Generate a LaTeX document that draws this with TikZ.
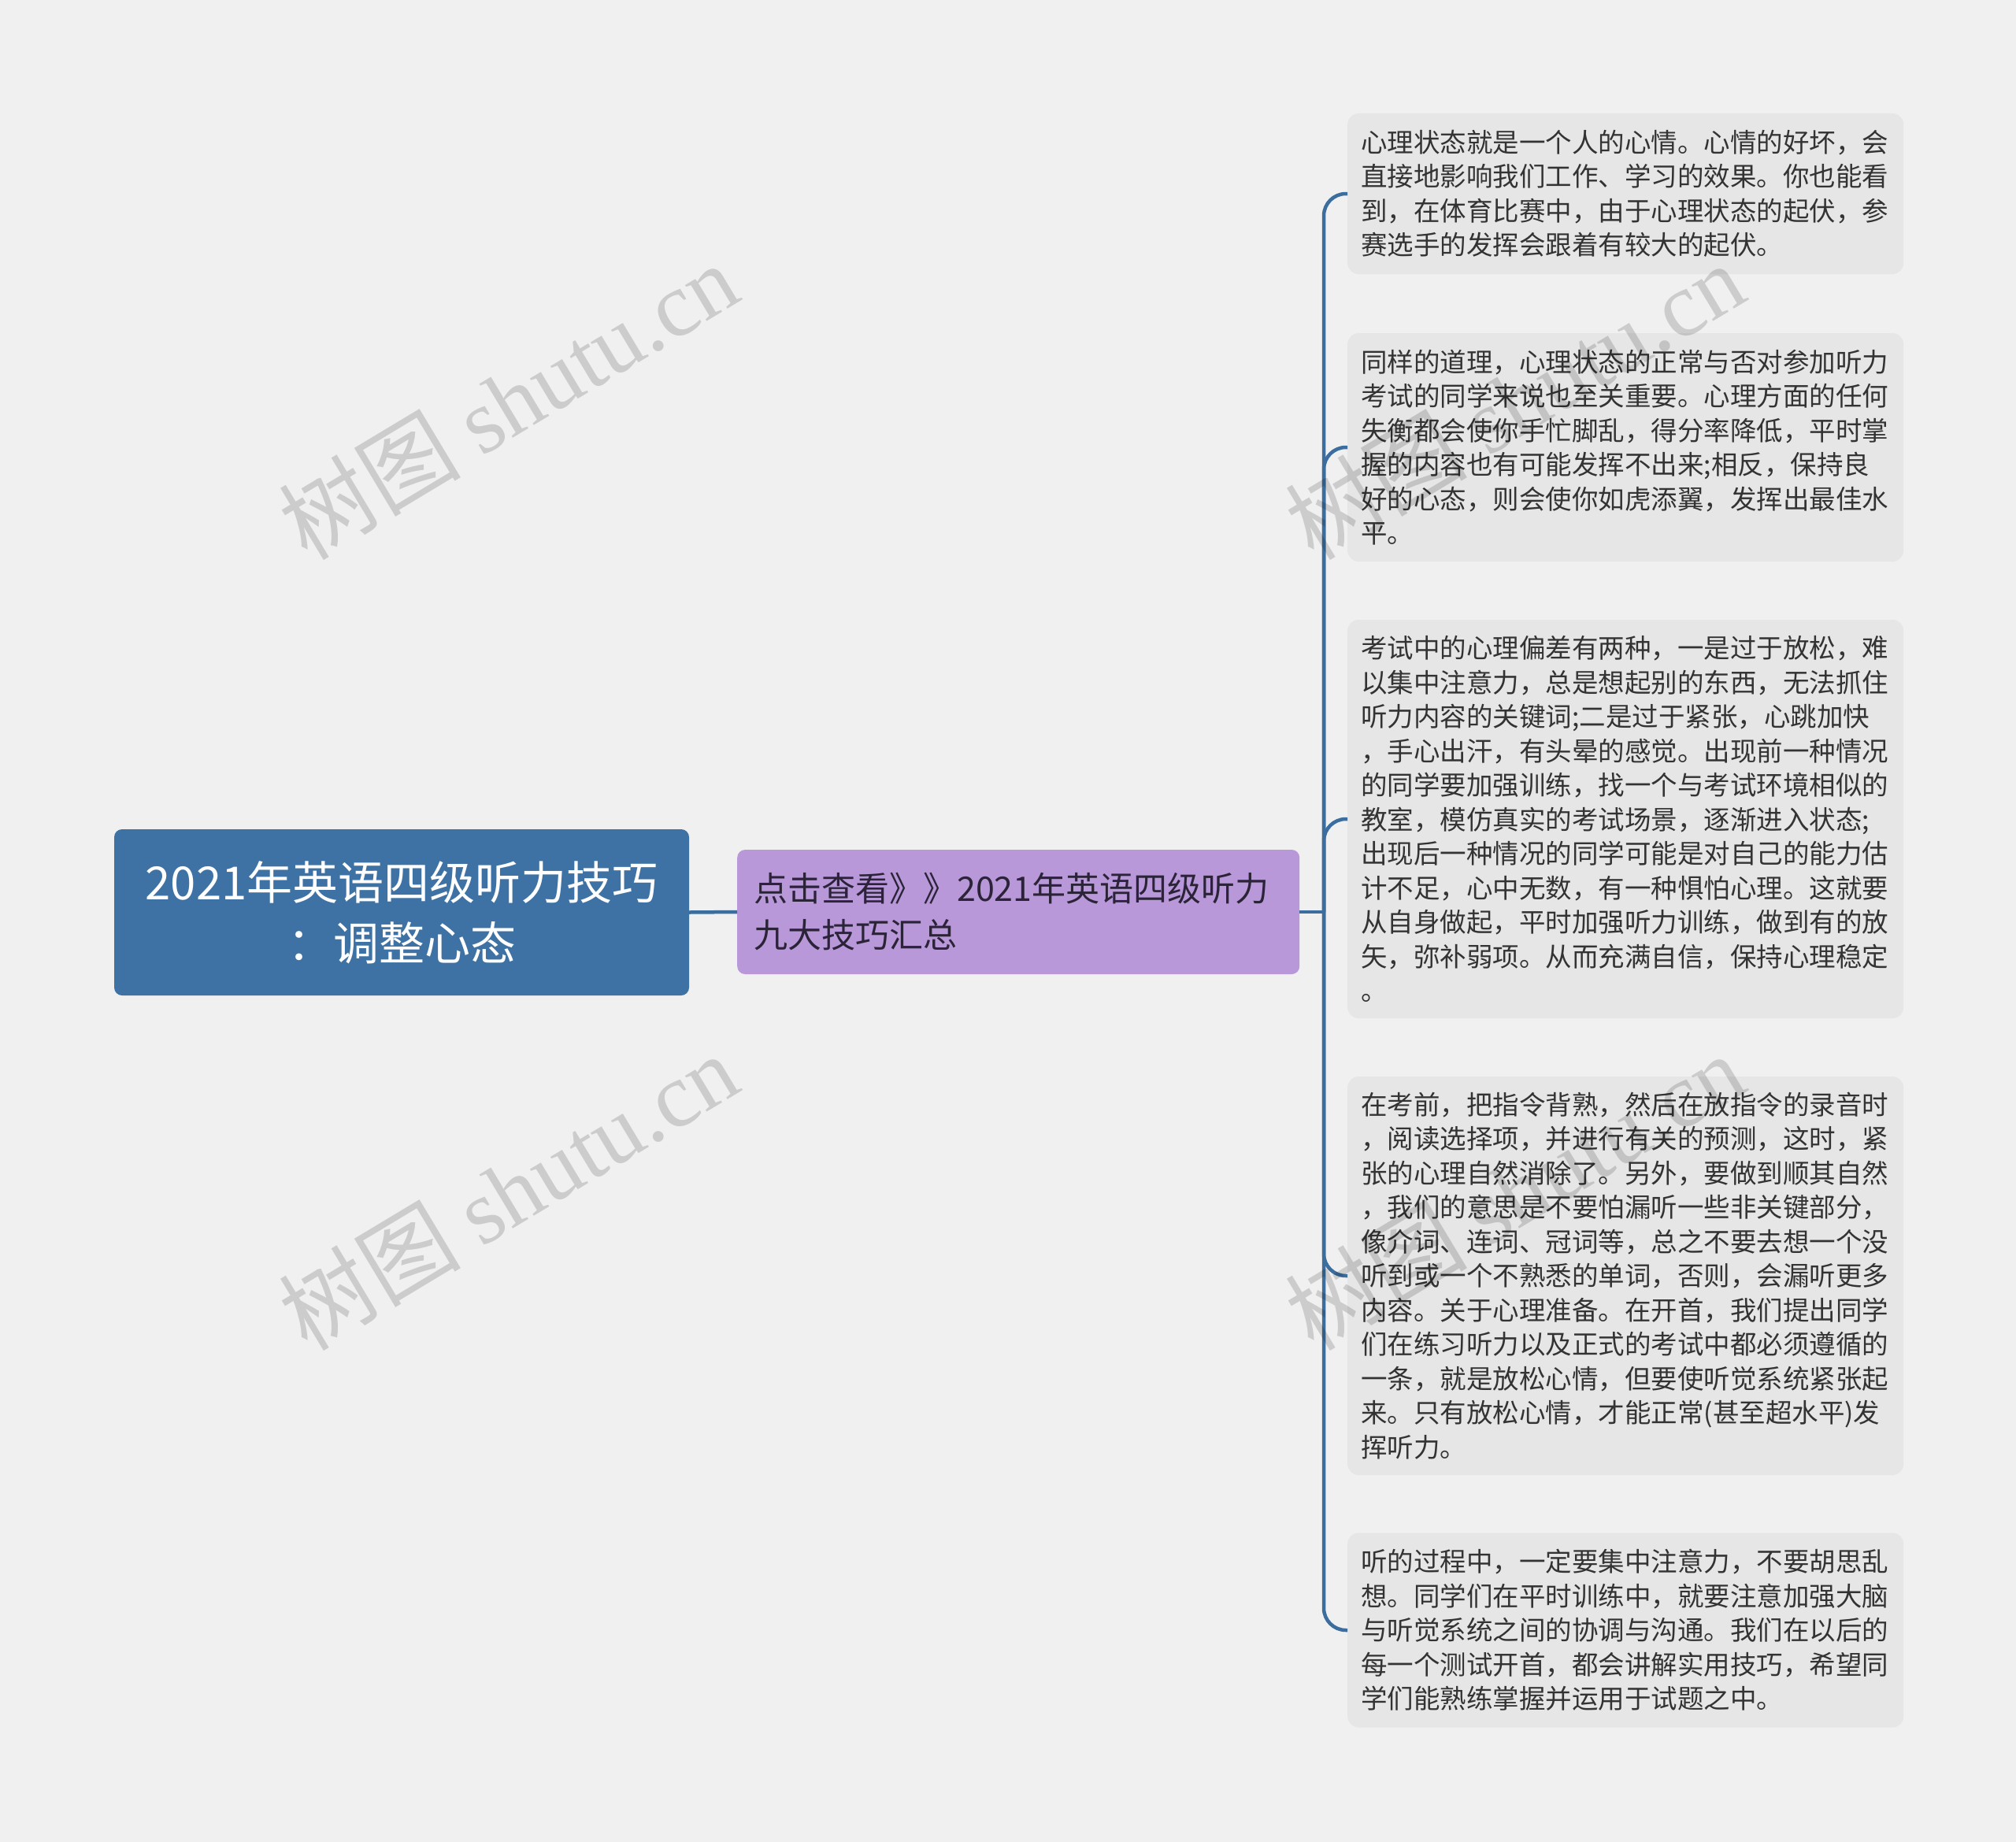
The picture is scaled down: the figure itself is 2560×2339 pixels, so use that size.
\documentclass[tikz,border=0pt]{standalone}
\usepackage{fontspec}
\setmainfont{Noto Sans CJK SC}
\newfontfamily\cjk{Noto Sans CJK SC}
\newfontfamily\wmserif{Liberation Serif}
\definecolor{bgc}{HTML}{F0F0F0}
\definecolor{rootc}{HTML}{3E72A4}
\definecolor{linec}{HTML}{3B6E9F}
\definecolor{purplec}{HTML}{B898D9}
\definecolor{leafc}{HTML}{E6E6E6}
\definecolor{txtc}{HTML}{333333}
\definecolor{ptxt}{HTML}{2B2438}
\begin{document}
\begin{tikzpicture}[x=1pt,y=-1pt,
  rootbox/.style={fill=rootc, rounded corners=10, text=white, align=center,
    font=\cjk\fontsize{58}{77}\selectfont, minimum width=730, minimum height=211, inner sep=0},
  subbox/.style={fill=purplec, rounded corners=10, text=ptxt, align=left, text width=672,
    font=\cjk\fontsize{43}{59}\selectfont, minimum height=158, inner xsep=21, inner ysep=0, anchor=west},
  leafbox/.style={fill=leafc, rounded corners=14, text=txtc, align=left, text width=672,
    font=\cjk\fontsize{33.5}{43.5}\selectfont, inner xsep=17, inner ysep=0, anchor=west},
  conn/.style={draw=linec, line width=4.5},
  wm/.style={text=black, opacity=0.15, rotate=31, font=\fontsize{116}{116}\selectfont}
]
\useasboundingbox[fill=bgc] (0,0) rectangle (2560,2339);

\node[rootbox] (root) at (510,1158.5) {2021年英语四级听力技巧\\：调整心态};
\node[subbox] (sub) at (936,1158) {点击查看》》2021年英语四级听力\\九大技巧汇总};

\node[leafbox, minimum height=204] (l1) at (1711,246) {心理状态就是一个人的心情。心情的好坏，会\\直接地影响我们工作、学习的效果。你也能看\\到，在体育比赛中，由于心理状态的起伏，参\\赛选手的发挥会跟着有较大的起伏。};
\node[leafbox, minimum height=290] (l2) at (1711,568) {同样的道理，心理状态的正常与否对参加听力\\考试的同学来说也至关重要。心理方面的任何\\失衡都会使你手忙脚乱，得分率降低，平时掌\\握的内容也有可能发挥不出来;相反，保持良\\好的心态，则会使你如虎添翼，发挥出最佳水\\平。};
\node[leafbox, minimum height=506] (l3) at (1711,1040) {考试中的心理偏差有两种，一是过于放松，难\\以集中注意力，总是想起别的东西，无法抓住\\听力内容的关键词;二是过于紧张，心跳加快\\，手心出汗，有头晕的感觉。出现前一种情况\\的同学要加强训练，找一个与考试环境相似的\\教室，模仿真实的考试场景，逐渐进入状态;\\出现后一种情况的同学可能是对自己的能力估\\计不足，心中无数，有一种惧怕心理。这就要\\从自身做起，平时加强听力训练，做到有的放\\矢，弥补弱项。从而充满自信，保持心理稳定\\。};
\node[leafbox, minimum height=506] (l4) at (1711,1620) {在考前，把指令背熟，然后在放指令的录音时\\，阅读选择项，并进行有关的预测，这时，紧\\张的心理自然消除了。另外，要做到顺其自然\\，我们的意思是不要怕漏听一些非关键部分，\\像介词、连词、冠词等，总之不要去想一个没\\听到或一个不熟悉的单词，否则，会漏听更多\\内容。关于心理准备。在开首，我们提出同学\\们在练习听力以及正式的考试中都必须遵循的\\一条，就是放松心情，但要使听觉系统紧张起\\来。只有放松心情，才能正常(甚至超水平)发\\挥听力。};
\node[leafbox, minimum height=247] (l5) at (1711,2070) {听的过程中，一定要集中注意力，不要胡思乱\\想。同学们在平时训练中，就要注意加强大脑\\与听觉系统之间的协调与沟通。我们在以后的\\每一个测试开首，都会讲解实用技巧，希望同\\学们能熟练掌握并运用于试题之中。};

\coordinate (hub) at (1681,1158);
\draw[conn] (root.east) -- (sub.west);
\draw[conn] (sub.east) -- (hub);
\foreach \n in {l1,l2,l3,l4,l5}{
  \draw[conn, rounded corners=28] (hub) |- (\n.west);
}

\foreach \p in {(645,509),(645,1513),(1923,509),(1923,1513)}{
  \node[wm] at \p {{\cjk 树图} {\wmserif shutu.cn}};
}
\end{tikzpicture}
\end{document}
